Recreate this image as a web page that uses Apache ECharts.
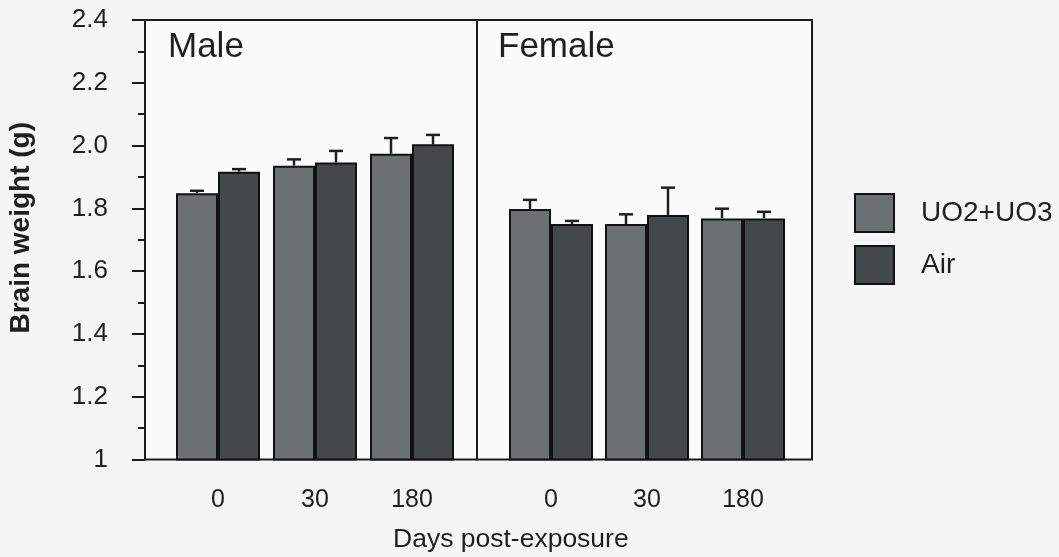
<!DOCTYPE html>
<html>
<head>
<meta charset="utf-8">
<script src="https://cdn.jsdelivr.net/npm/echarts@6/dist/echarts.min.js"></script>
<style>html,body{margin:0;padding:0;background:#f4f6f6;}#c{width:1059px;height:557px;}</style>
</head>
<body>
<div id="c"></div>
<script>
// ---- data ----
const days = ['0', '30', '180'];
const panels = ['Male', 'Female'];
const seriesNames = ['UO2+UO3', 'Air'];
const maleUO2 = [1.848, 1.936, 1.974];
const maleUO2Err = [0.008, 0.020, 0.050];
const maleAir = [1.917, 1.946, 2.004];
const maleAirErr = [0.008, 0.037, 0.030];
const femaleUO2 = [1.798, 1.750, 1.768];
const femaleUO2Err = [0.029, 0.031, 0.031];
const femaleAir = [1.750, 1.779, 1.768];
const femaleAirErr = [0.010, 0.087, 0.021];
const yTicks = { min: 1, max: 2.4, step: 0.2 };
const yLabel = 'Brain weight (g)';
const xLabel = 'Days post-exposure';

// ---- style ----
const FONT = 'Liberation Sans, Arial, Helvetica, sans-serif';
const INK = '#1e2020';
const COL_UO2 = '#6b7070';
const COL_AIR = '#434948';
const BAR_W = 42;
const TOP = 20, BOTTOM = 97.5;

const chart = echarts.init(document.getElementById('c'), null, { renderer: 'canvas' });

function errSeries(name, xAxisIndex, yAxisIndex, vals, errs, offset) {
  return {
    type: 'custom',
    name: name + ' err',
    xAxisIndex, yAxisIndex,
    z: 5,
    silent: true,
    data: vals.map((v, i) => [i, v, errs[i]]),
    renderItem: function (params, api) {
      const i = api.value(0), v = api.value(1), e = api.value(2);
      const p0 = api.coord([i, v]);
      const p1 = api.coord([i, v + e]);
      const x = p0[0] + offset;
      return {
        type: 'group',
        children: [
          { type: 'line', shape: { x1: x, y1: p0[1], x2: x, y2: p1[1] }, style: { stroke: INK, lineWidth: 2.5 } },
          { type: 'line', shape: { x1: x - 7, y1: p1[1], x2: x + 7, y2: p1[1] }, style: { stroke: INK, lineWidth: 2.5 } }
        ]
      };
    }
  };
}

function barSeries(name, color, xAxisIndex, yAxisIndex, vals) {
  return {
    type: 'bar', name, xAxisIndex, yAxisIndex,
    data: vals,
    barWidth: BAR_W, barGap: '0%',
    itemStyle: { color, borderColor: '#111', borderWidth: 2 },
    z: 3
  };
}

const hiddenY = { type: 'value', min: yTicks.min, max: yTicks.max, interval: yTicks.step, show: false };

const option = {
  backgroundColor: '#f4f6f6',
  animation: false,
  textStyle: { fontFamily: FONT },
  grid: [
    // frames
    { left: 145, width: 332, top: TOP, bottom: BOTTOM, show: true, backgroundColor: '#fafbfb', borderColor: '#1a1a1a', borderWidth: 2, containLabel: false },
    { left: 477, width: 335, top: TOP, bottom: BOTTOM, show: true, backgroundColor: '#fafbfb', borderColor: '#1a1a1a', borderWidth: 2, containLabel: false },
    // bar areas
    { left: 169.5, width: 291, top: TOP, bottom: BOTTOM },
    { left: 503, width: 288, top: TOP, bottom: BOTTOM }
  ],
  xAxis: [
    { type: 'category', gridIndex: 0, data: days, show: false },
    { type: 'category', gridIndex: 1, data: days, show: false },
    { type: 'category', gridIndex: 2, data: days, axisLine: { show: false }, axisTick: { show: false },
      axisLabel: { fontSize: 25, color: INK, margin: 28, fontFamily: FONT } },
    { type: 'category', gridIndex: 3, data: days, axisLine: { show: false }, axisTick: { show: false },
      axisLabel: { fontSize: 25, color: INK, margin: 28, fontFamily: FONT } }
  ],
  yAxis: [
    { type: 'value', gridIndex: 0, min: yTicks.min, max: yTicks.max, interval: yTicks.step,
      axisLine: { show: true, lineStyle: { color: '#1a1a1a', width: 2 } },
      axisTick: { show: true, inside: false, length: 13, lineStyle: { color: '#1a1a1a', width: 2 } },
      minorTick: { show: true, splitNumber: 2, length: 7, lineStyle: { color: '#1a1a1a', width: 2 } },
      splitLine: { show: false },
      axisLabel: { fontSize: 26, color: INK, margin: 37, fontFamily: FONT,
        formatter: v => (Math.abs(v - 1) < 1e-9 ? '1' : v.toFixed(1)) },
      name: yLabel, nameLocation: 'middle', nameGap: 110,
      nameTextStyle: { fontSize: 28, fontWeight: 'bold', color: INK, fontFamily: FONT, padding: [0, 0, 0, 24] }
    },
    Object.assign({ gridIndex: 1 }, hiddenY),
    Object.assign({ gridIndex: 2 }, hiddenY),
    Object.assign({ gridIndex: 3 }, hiddenY)
  ],
  legend: {
    data: seriesNames,
    orient: 'vertical',
    left: 854, top: 193,
    itemWidth: 39, itemHeight: 38, itemGap: 12,
    icon: 'rect',
    padding: 0,
    itemStyle: { borderColor: '#111', borderWidth: 2 },
    textStyle: { fontSize: 28, color: INK, fontFamily: FONT, padding: [0, 0, 0, 22] },
    selectedMode: false
  },
  graphic: [
    { type: 'text', left: 168, top: 30, style: { text: panels[0], fontSize: 35, fill: INK, fontFamily: FONT } },
    { type: 'text', left: 498, top: 30, style: { text: panels[1], fontSize: 35, fill: INK, fontFamily: FONT } },
    { type: 'text', left: 393, top: 526, style: { text: xLabel, fontSize: 26.5, fill: INK, fontFamily: FONT } }
  ],
  series: [
    barSeries(seriesNames[0], COL_UO2, 2, 2, maleUO2),
    barSeries(seriesNames[1], COL_AIR, 2, 2, maleAir),
    barSeries(seriesNames[0], COL_UO2, 3, 3, femaleUO2),
    barSeries(seriesNames[1], COL_AIR, 3, 3, femaleAir),
    errSeries(seriesNames[0], 2, 2, maleUO2, maleUO2Err, -BAR_W / 2),
    errSeries(seriesNames[1], 2, 2, maleAir, maleAirErr, BAR_W / 2),
    errSeries(seriesNames[0], 3, 3, femaleUO2, femaleUO2Err, -BAR_W / 2),
    errSeries(seriesNames[1], 3, 3, femaleAir, femaleAirErr, BAR_W / 2)
  ]
};
chart.setOption(option);
</script>
</body>
</html>
